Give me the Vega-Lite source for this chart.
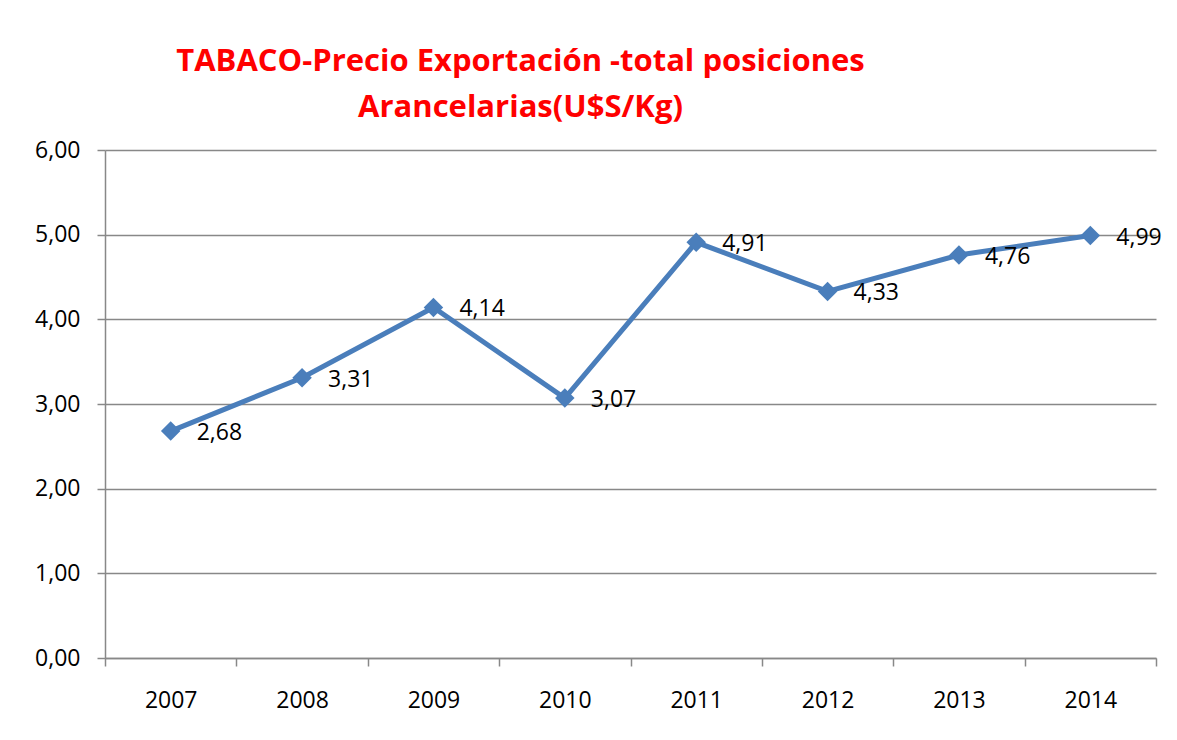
{
  "$schema": "https://vega.github.io/schema/vega-lite/v6.json",
  "width": 1051,
  "height": 508,
  "autosize": {"type": "none"},
  "padding": {"left": 105, "top": 150, "right": 21, "bottom": 82},
  "background": "white",
  "config": {
    "view": {"stroke": null},
    "font": "Open Sans",
    "locale": {
      "number": {"decimal": ",", "thousands": ".", "grouping": [3], "currency": ["", " $"]}
    }
  },
  "title": {
    "text": ["TABACO-Precio Exportación -total posiciones", "Arancelarias(U$S/Kg)"],
    "color": "#ff0000",
    "font": "Open Sans",
    "fontSize": 31,
    "fontWeight": "bold",
    "anchor": "middle",
    "dx": -110,
    "offset": 15,
    "lineHeight": 46,
    "frame": "group"
  },
  "data": {
    "values": [
      {"year": "2007", "price": 2.68},
      {"year": "2008", "price": 3.31},
      {"year": "2009", "price": 4.14},
      {"year": "2010", "price": 3.07},
      {"year": "2011", "price": 4.91},
      {"year": "2012", "price": 4.33},
      {"year": "2013", "price": 4.76},
      {"year": "2014", "price": 4.99}
    ]
  },
  "encoding": {
    "x": {
      "field": "year",
      "type": "ordinal",
      "bandPosition": 0.5,
      "scale": {"type": "band", "paddingInner": 0, "paddingOuter": 0},
      "axis": {
        "title": null,
        "labelAngle": 0,
        "tickBand": "extent",
        "domainColor": "#888888",
        "domainWidth": 1.5,
        "tickColor": "#888888",
        "tickWidth": 1.5,
        "tickSize": 8,
        "labelFontSize": 23,
        "labelColor": "#000000",
        "labelFont": "Open Sans",
        "labelPadding": 23,
        "grid": false
      }
    },
    "y": {
      "field": "price",
      "type": "quantitative",
      "scale": {"domain": [0, 6], "nice": false, "zero": true},
      "axis": {
        "title": null,
        "values": [0, 1, 2, 3, 4, 5, 6],
        "format": ".2f",
        "domainColor": "#888888",
        "domainWidth": 1.5,
        "tickColor": "#888888",
        "tickWidth": 1.5,
        "tickSize": 8,
        "gridColor": "#888888",
        "gridWidth": 1.5,
        "labelFontSize": 23,
        "labelColor": "#000000",
        "labelFont": "Open Sans",
        "labelPadding": 17
      }
    }
  },
  "layer": [
    {
      "mark": {"type": "line", "color": "#4a7ebb", "strokeWidth": 5}
    },
    {
      "mark": {"type": "point", "shape": "diamond", "filled": true, "color": "#4a7ebb", "size": 380, "opacity": 1}
    },
    {
      "mark": {"type": "text", "align": "left", "baseline": "middle", "dx": 26, "dy": 2, "fontSize": 23, "font": "Open Sans", "color": "#000000"},
      "encoding": {
        "text": {"field": "price", "type": "quantitative", "format": ".2f"}
      }
    }
  ]
}
